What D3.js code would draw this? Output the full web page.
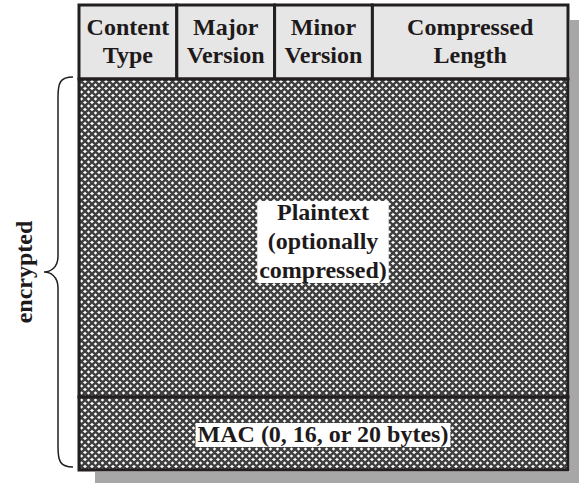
<!DOCTYPE html>
<html>
<head>
<meta charset="utf-8">
<script src="https://cdnjs.cloudflare.com/ajax/libs/d3/7.8.5/d3.min.js"></script>
<style>
  body { margin: 0; background: #fff; }
  text { font-family: "Liberation Serif", "Times New Roman", serif; font-weight: bold; fill: #1e1a1b; }
</style>
</head>
<body>
<div id="chart"></div>
<script>
//--------------------------------------------------------------
// DATA
//--------------------------------------------------------------
// header fields, widths in bits
var fieldNames = [["Content", "Type"], ["Major", "Version"], ["Minor", "Version"], ["Compressed", "Length"]];
var fieldBits = [8, 8, 8, 16];

// body rows (relative heights)
var rowNames = ["header", "plaintext", "mac"];
var rowHeights = [74, 318, 73];
var plainLines = ["Plaintext", "(optionally", "compressed)"];
var macLabel = "MAC (0, 16, or 20 bytes)";
var braceLabel = "encrypted";

//--------------------------------------------------------------
// SIZE
//--------------------------------------------------------------
var width = 579, height = 483;
var box = { left: 79, right: 568, top: 5, bottom: 470 };
var fontSize = 24;

var svg = d3.select("#chart").append("svg")
   .attr("width", width)
   .attr("height", height);

// crosshatch pattern
var pat = svg.append("defs").append("pattern")
   .attr("id", "hatch")
   .attr("patternUnits", "userSpaceOnUse")
   .attr("width", 7).attr("height", 7)
   .attr("x", 1).attr("y", 1);
pat.append("rect").attr("width", 7).attr("height", 7).attr("fill", "#fff");
pat.append("path")
   .attr("d", "M-1,1 L1,-1 M0,7 L7,0 M6,8 L8,6 M-1,6 L1,8 M0,0 L7,7 M6,-1 L8,1")
   .attr("stroke", "#3f3f3f").attr("stroke-width", 2.5);

// scales
var totalBits = d3.sum(fieldBits);
var xScale = d3.scaleLinear().domain([0, totalBits]).range([box.left, box.right]);
var cumRows = [0].concat(Array.from(d3.cumsum(rowHeights)));
var yScale = d3.scaleLinear().domain([0, d3.sum(rowHeights)]).range([box.top, box.bottom]);
var cumBits = [0].concat(Array.from(d3.cumsum(fieldBits)));

// shadow
svg.append("rect")
   .attr("x", box.left + 16).attr("y", box.top + 15)
   .attr("width", box.right - box.left + 20).attr("height", box.bottom - box.top + 20)
   .attr("fill", "#a7a7a7");
svg.append("rect")
   .attr("x", box.left - 2).attr("y", box.top - 2)
   .attr("width", box.right - box.left + 4).attr("height", box.bottom - box.top + 4)
   .attr("fill", "#fff");

// header cells
fieldBits.forEach(function(b, i) {
   var x0 = xScale(cumBits[i]), x1 = xScale(cumBits[i + 1]);
   svg.append("rect")
      .attr("x", x0).attr("y", yScale(cumRows[0]))
      .attr("width", x1 - x0).attr("height", yScale(cumRows[1]) - yScale(cumRows[0]))
      .attr("fill", "#e6e6e6").attr("stroke", "#231f20").attr("stroke-width", 3);
   fieldNames[i].forEach(function(t, j) {
      svg.append("text")
         .attr("x", (x0 + x1) / 2).attr("y", yScale(cumRows[0]) + 30 + j * 28)
         .attr("text-anchor", "middle").attr("font-size", fontSize)
         .text(t);
   });
});

// body rows
[1, 2].forEach(function(r) {
   svg.append("rect")
      .attr("x", box.left).attr("y", yScale(cumRows[r]))
      .attr("width", box.right - box.left).attr("height", yScale(cumRows[r + 1]) - yScale(cumRows[r]))
      .attr("fill", "url(#hatch)").attr("stroke", "#231f20").attr("stroke-width", 3);
});

// white label behind text
function label(lines, cx, y0, lh) {
   var g = svg.append("g");
   var bg = g.append("rect").attr("fill", "#fff");
   lines.forEach(function(t, j) {
      g.append("text")
         .attr("x", cx).attr("y", y0 + j * lh)
         .attr("text-anchor", "middle").attr("font-size", fontSize)
         .text(t);
   });
   var bb = g.node().getBBox();
   bg.attr("x", bb.x - 2).attr("y", bb.y + 2).attr("width", bb.width + 4).attr("height", bb.height - 2);
}
label(plainLines, 323, 220, 29);
label([macLabel], 323, 442, 29);

// brace
var bTop = 77, bBot = 467, bMid = 272, bx = 73, bIn = 58, bTip = 44;
svg.append("path")
   .attr("d", "M" + bx + "," + bTop +
      " C" + (bIn + 2) + "," + bTop + " " + bIn + "," + (bTop + 6) + " " + bIn + "," + (bTop + 20) +
      " L" + bIn + "," + (bMid - 16) +
      " C" + bIn + "," + (bMid - 4) + " " + (bTip + 6) + "," + bMid + " " + bTip + "," + bMid +
      " C" + (bTip + 6) + "," + bMid + " " + bIn + "," + (bMid + 4) + " " + bIn + "," + (bMid + 16) +
      " L" + bIn + "," + (bBot - 20) +
      " C" + bIn + "," + (bBot - 6) + " " + (bIn + 2) + "," + bBot + " " + bx + "," + bBot)
   .attr("fill", "none").attr("stroke", "#231f20").attr("stroke-width", 1.5);

svg.append("text")
   .attr("transform", "translate(32," + bMid + ") rotate(-90)")
   .attr("text-anchor", "middle").attr("font-size", fontSize)
   .text(braceLabel);
</script>
</body>
</html>
